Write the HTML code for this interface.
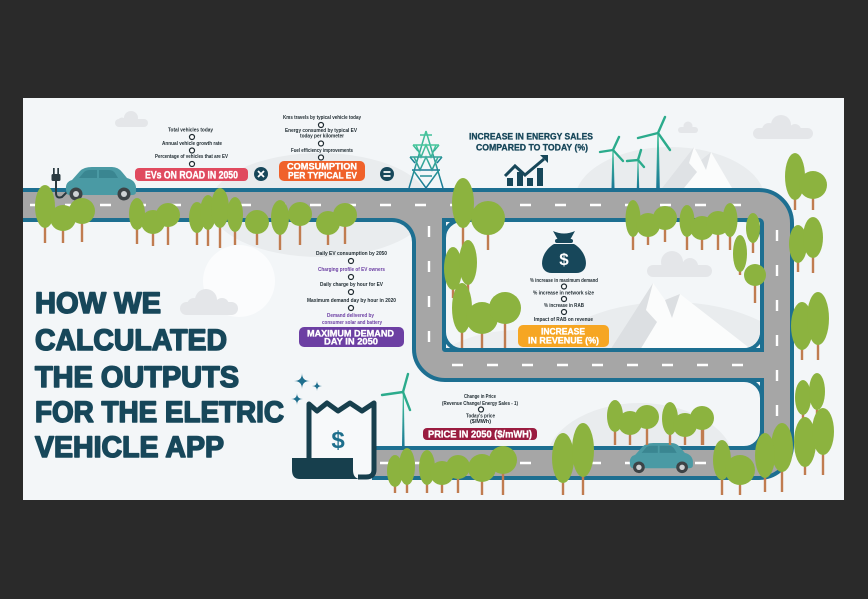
<!DOCTYPE html>
<html><head><meta charset="utf-8"><style>
html,body{margin:0;padding:0;background:#2a2a2a;}
svg{display:block;}
text{font-family:"Liberation Sans",sans-serif;font-weight:bold;}
</style></head><body>
<svg width="868" height="599" viewBox="0 0 868 599" xmlns="http://www.w3.org/2000/svg">
<defs>
<linearGradient id="tg" x1="0" y1="0" x2="0" y2="1"><stop offset="0" stop-color="#45c69a"/><stop offset="1" stop-color="#1a7896"/></linearGradient>
<clipPath id="c1"><rect x="446" y="222" width="314" height="126" rx="16"/></clipPath>
<clipPath id="c2"><rect x="446" y="382" width="314" height="64"/></clipPath>
</defs>
<rect width="868" height="599" fill="#2a2a2a"/>
<rect x="23" y="98" width="821" height="402" fill="#f3f6f8"/>

<!-- sun & clouds -->
<circle cx="239" cy="281" r="36" fill="#fbfcfd"/>
<g fill="#e4e6e9">
<rect x="115" y="119" width="33" height="8" rx="4"/><circle cx="131" cy="118" r="7"/><circle cx="122" cy="122" r="4.5"/>
<rect x="678" y="127" width="20" height="6" rx="3"/><circle cx="688" cy="126" r="4.5"/>
<rect x="753" y="128" width="60" height="11" rx="5.5"/><circle cx="781" cy="125" r="10"/><circle cx="769" cy="130" r="7"/><circle cx="795" cy="130" r="6"/>
<rect x="180" y="302" width="58" height="13" rx="6.5"/><circle cx="206" cy="300" r="11"/><circle cx="194" cy="305" r="7"/><circle cx="222" cy="305" r="7"/>
</g>
<!-- hills -->
<ellipse cx="320" cy="205" rx="110" ry="52" fill="#e9ecee"/>
<ellipse cx="670" cy="200" rx="95" ry="53" fill="#e9ecee"/>
<!-- top mountains -->
<polygon points="662,188 694,147 701,160 711,152 732,188" fill="#fbfcfc"/>
<polygon points="662,188 694,147 689,163 697,172 684,188" fill="#dfe2e5"/>
<polygon points="701,160 711,152 706,170" fill="#dfe2e5"/>

<!-- turbines -->
<g fill="url(#tg)">
<polygon points="611.5,188 614.5,188 613.6,150 612.4,150"/>
<polygon points="636.8,188 639.2,188 638.5,160 637.5,160"/>
<polygon points="656.2,188 659.8,188 658.7,133 657.3,133"/>
<polygon points="402,447 404.6,447 403.8,392 402.8,392"/>
</g>
<g stroke="#2bab8c" stroke-width="2.4" stroke-linecap="round">
<line x1="613" y1="150" x2="619" y2="137"/><line x1="613" y1="150" x2="600" y2="152"/><line x1="613" y1="150" x2="623" y2="161"/>
<line x1="638" y1="160" x2="641" y2="150"/><line x1="638" y1="160" x2="627" y2="161"/><line x1="638" y1="160" x2="644" y2="167"/>
<line x1="658" y1="133" x2="665" y2="117"/><line x1="658" y1="133" x2="638" y2="138"/><line x1="658" y1="133" x2="670" y2="150"/>
<line x1="403" y1="392" x2="408" y2="374"/><line x1="403" y1="392" x2="382" y2="395"/><line x1="403" y1="392" x2="410" y2="410"/>
</g>

<!-- transmission tower -->
<g stroke="url(#tg)" stroke-width="1.5" fill="none">
<path d="M426 131 L409 188 M426 131 L443 188 M420 135 L432 135"/>
<path d="M413 145 H439 M410 157 H442 M412 170 H440"/>
<path d="M416 145 L421 157 L426 145 L431 157 L436 145 M414 157 L420 170 L426 157 L432 170 L438 157 M413 170 L426 188 L439 170 M420 176 L432 176"/>
<path d="M413 145 L418 151 M439 145 L434 151 M410 157 L415 163 M442 157 L437 163"/>
</g>

<!-- roads -->
<g fill="none">
<path d="M23 205 H759 A18 18 0 0 1 777 223 V445 A18 18 0 0 1 759 463 H372" stroke="#1d6f91" stroke-width="34"/>
<path d="M429 205 V349 A16 16 0 0 0 445 365 H777" stroke="#1d6f91" stroke-width="34"/>
<path d="M23 205 H759 A18 18 0 0 1 777 223 V445 A18 18 0 0 1 759 463 H372" stroke="#a6a6a6" stroke-width="26"/>
<path d="M429 205 V349 A16 16 0 0 0 445 365 H777" stroke="#a6a6a6" stroke-width="26"/>
</g>
<path d="M392 222 L412 222 L412 242 A20 20 0 0 0 392 222 Z" fill="#1d6f91"/>
<path d="M392 218 L416 218 L416 242 A24 24 0 0 0 392 218 Z" fill="#a6a6a6"/>
<rect x="444" y="220" width="318" height="130" rx="18" fill="#f3f6f8" stroke="#1d6f91" stroke-width="4"/>
<path d="M446 380 H744 A18 18 0 0 1 762 398 V430 A18 18 0 0 1 744 448 H446" fill="#f3f6f8" stroke="#1d6f91" stroke-width="4"/>

<!-- inner loop scenery -->
<g clip-path="url(#c1)">
<ellipse cx="670" cy="370" rx="130" ry="68" fill="#e9ecee"/>
<ellipse cx="520" cy="375" rx="90" ry="45" fill="#eceef0"/>
<g fill="#e4e6e9"><rect x="647" y="265" width="65" height="12" rx="6"/><circle cx="672" cy="262" r="11"/><circle cx="690" cy="266" r="8"/></g>
<polygon points="610,350 653,283 665,300 680,294 752,350" fill="#fbfcfc"/>
<polygon points="610,350 653,283 646,310 657,322 640,350" fill="#dcdfe2"/>
<polygon points="665,300 680,294 672,318" fill="#dcdfe2"/>
</g>
<g clip-path="url(#c2)">
<ellipse cx="640" cy="465" rx="95" ry="62" fill="#e9ecee"/>
</g>

<!-- dashes -->
<g stroke="#ffffff" stroke-width="2.4" fill="none" stroke-dasharray="11 24">
<path d="M30 205 H752"/>
<path d="M777 230 V448"/>
<path d="M429 226 V350"/>
<path d="M452 365 H762"/>
<path d="M380 463 H768"/>
</g>

<!-- plug -->
<g fill="#2a3a40">
<rect x="53" y="168" width="1.7" height="7"/><rect x="57.3" y="168" width="1.7" height="7"/>
<rect x="51.5" y="174" width="9" height="7" rx="1.5"/>
</g>
<path d="M56 180 V193 Q56 199 62 197 L68 191" stroke="#2a3a40" stroke-width="2" fill="none"/>

<!-- cars -->
<g>
<path d="M66 190 Q65 182 72 180 L80 171 Q84 167 92 167 L112 167 Q118 167 122 172 L127 178 Q135 180 136 187 L136 192 Q136 195 132 195 L70 195 Q66 195 66 190 Z" fill="#4a9aa4"/>
<path d="M79 178 L84 172 Q86 170 90 170 L97 170 L97 178 Z M99 170 L109 170 Q113 170 115 173 L118 178 L99 178 Z" fill="#3a8691"/>
<circle cx="76" cy="194" r="6.5" fill="#3d4346"/><circle cx="76" cy="194" r="3" fill="#cfd2d4"/>
<circle cx="124" cy="194" r="6.5" fill="#3d4346"/><circle cx="124" cy="194" r="3" fill="#cfd2d4"/>
</g>
<g transform="translate(629 443) scale(0.9) translate(-65 -167)">
<path d="M66 190 Q65 182 72 180 L80 171 Q84 167 92 167 L112 167 Q118 167 122 172 L127 178 Q135 180 136 187 L136 192 Q136 195 132 195 L70 195 Q66 195 66 190 Z" fill="#4a9aa4"/>
<path d="M79 178 L84 172 Q86 170 90 170 L97 170 L97 178 Z M99 170 L109 170 Q113 170 115 173 L118 178 L99 178 Z" fill="#3a8691"/>
<circle cx="76" cy="194" r="6.5" fill="#3d4346"/><circle cx="76" cy="194" r="3" fill="#cfd2d4"/>
<circle cx="124" cy="194" r="6.5" fill="#3d4346"/><circle cx="124" cy="194" r="3" fill="#cfd2d4"/>
</g>

<!-- trees: trunks -->
<g fill="#c07c50">
<rect x="43.8" y="206" width="2.4" height="37"/><rect x="135.8" y="214" width="2.4" height="30"/><rect x="195.8" y="217" width="2.4" height="28"/><rect x="206.8" y="212" width="2.4" height="34"/><rect x="218.8" y="208" width="2.4" height="40"/><rect x="233.8" y="214" width="2.4" height="31"/><rect x="278.8" y="217" width="2.4" height="33"/>
<rect x="461.8" y="203" width="2.4" height="47"/><rect x="451.8" y="268" width="2.4" height="30"/><rect x="466.8" y="262" width="2.4" height="30"/><rect x="460.8" y="308" width="2.4" height="40"/>
<rect x="631.8" y="218" width="2.4" height="32"/><rect x="685.8" y="221" width="2.4" height="29"/><rect x="728.8" y="220" width="2.4" height="30"/><rect x="751.8" y="228" width="2.4" height="25"/><rect x="738.8" y="253" width="2.4" height="22"/>
<rect x="793.8" y="176" width="2.4" height="34"/><rect x="796.8" y="244" width="2.4" height="28"/><rect x="811.8" y="237" width="2.4" height="36"/><rect x="800.8" y="326" width="2.4" height="34"/><rect x="816.8" y="318" width="2.4" height="42"/><rect x="801.8" y="397" width="2.4" height="25"/><rect x="815.8" y="391" width="2.4" height="29"/><rect x="803.8" y="442" width="2.4" height="33"/><rect x="821.8" y="431" width="2.4" height="44"/><rect x="780.8" y="447" width="2.4" height="45"/><rect x="763.8" y="455" width="2.4" height="37"/><rect x="720.8" y="460" width="2.4" height="35"/>
<rect x="613.8" y="416" width="2.4" height="29"/><rect x="668.8" y="418" width="2.4" height="27"/><rect x="393.8" y="471" width="2.4" height="22"/><rect x="405.8" y="466" width="2.4" height="27"/><rect x="425.8" y="467" width="2.4" height="26"/><rect x="561.8" y="458" width="2.4" height="37"/><rect x="581.8" y="450" width="2.4" height="45"/>
<rect x="61.8" y="218" width="2.4" height="25"/><rect x="80.8" y="211" width="2.4" height="31"/><rect x="151.8" y="222" width="2.4" height="24"/><rect x="166.8" y="215" width="2.4" height="30"/><rect x="255.8" y="222" width="2.4" height="23"/><rect x="298.8" y="214" width="2.4" height="31"/><rect x="326.8" y="223" width="2.4" height="22"/><rect x="343.8" y="215" width="2.4" height="29"/><rect x="486.8" y="218" width="2.4" height="32"/><rect x="480.8" y="318" width="2.4" height="30"/><rect x="503.8" y="308" width="2.4" height="40"/><rect x="646.8" y="225" width="2.4" height="20"/><rect x="663.8" y="218" width="2.4" height="24"/><rect x="700.8" y="228" width="2.4" height="22"/><rect x="716.8" y="223" width="2.4" height="27"/><rect x="753.8" y="275" width="2.4" height="28"/><rect x="811.8" y="185" width="2.4" height="25"/><rect x="738.8" y="470" width="2.4" height="25"/><rect x="701.8" y="418" width="2.4" height="27"/><rect x="628.8" y="423" width="2.4" height="22"/><rect x="645.8" y="417" width="2.4" height="28"/><rect x="683.8" y="425" width="2.4" height="20"/><rect x="700.8" y="418" width="2.4" height="27"/><rect x="440.8" y="473" width="2.4" height="20"/><rect x="456.8" y="467" width="2.4" height="26"/><rect x="480.8" y="468" width="2.4" height="27"/><rect x="501.8" y="460" width="2.4" height="35"/>
</g>
<!-- trees: crowns -->
<g fill="#8cb33f">
<ellipse cx="45" cy="206.5" rx="10" ry="21.5"/><ellipse cx="137" cy="214" rx="8" ry="16"/><ellipse cx="197" cy="217.5" rx="8" ry="15.5"/><ellipse cx="208" cy="212.5" rx="8" ry="17.5"/><ellipse cx="220" cy="208" rx="9" ry="20"/><ellipse cx="235" cy="214.5" rx="8" ry="17.5"/><ellipse cx="280" cy="217.5" rx="9" ry="17.5"/>
<ellipse cx="463" cy="203" rx="11" ry="25"/><ellipse cx="453" cy="268.5" rx="9" ry="21.5"/><ellipse cx="468" cy="262.5" rx="9" ry="22.5"/><ellipse cx="462" cy="308" rx="10" ry="25"/>
<ellipse cx="633" cy="218.5" rx="7.5" ry="18.5"/><ellipse cx="687" cy="221" rx="7.5" ry="16"/><ellipse cx="730" cy="220" rx="7.5" ry="17"/><ellipse cx="753" cy="228" rx="7" ry="15"/><ellipse cx="740" cy="253.5" rx="7" ry="18.5"/>
<ellipse cx="795" cy="176.5" rx="10" ry="23.5"/><ellipse cx="798" cy="244" rx="9" ry="19"/><ellipse cx="813" cy="237.5" rx="10" ry="20.5"/><ellipse cx="802" cy="326" rx="11" ry="24"/><ellipse cx="818" cy="318.5" rx="11" ry="26.5"/><ellipse cx="803" cy="397.5" rx="8" ry="17.5"/><ellipse cx="817" cy="391.5" rx="8" ry="18.5"/><ellipse cx="805" cy="442" rx="11" ry="25"/><ellipse cx="823" cy="431.5" rx="11" ry="23.5"/><ellipse cx="782" cy="447.5" rx="11" ry="24.5"/><ellipse cx="765" cy="455.5" rx="10" ry="22.5"/><ellipse cx="722" cy="460" rx="9" ry="20"/>
<ellipse cx="615" cy="416" rx="8" ry="16"/><ellipse cx="670" cy="418.5" rx="8" ry="16.5"/><ellipse cx="395" cy="471" rx="8" ry="16"/><ellipse cx="407" cy="466.5" rx="8" ry="18.5"/><ellipse cx="427" cy="467.5" rx="8" ry="17.5"/><ellipse cx="563" cy="458" rx="11" ry="25"/><ellipse cx="583" cy="450" rx="11" ry="27"/>
<circle cx="63" cy="218" r="13"/><circle cx="82" cy="211" r="13"/><circle cx="153" cy="222" r="12"/><circle cx="168" cy="215" r="12"/><circle cx="257" cy="222" r="12"/><circle cx="300" cy="214" r="12"/><circle cx="328" cy="223" r="12"/><circle cx="345" cy="215" r="12"/><circle cx="488" cy="218" r="17"/><circle cx="482" cy="318" r="16"/><circle cx="505" cy="308" r="16"/><circle cx="648" cy="225" r="12"/><circle cx="665" cy="218" r="12"/><circle cx="702" cy="228" r="12"/><circle cx="718" cy="223" r="12"/><circle cx="755" cy="275" r="11"/><circle cx="813" cy="185" r="14"/><circle cx="740" cy="470" r="15"/><circle cx="703" cy="418" r="10"/><circle cx="630" cy="423" r="12"/><circle cx="647" cy="417" r="12"/><circle cx="685" cy="425" r="12"/><circle cx="702" cy="418" r="12"/><circle cx="442" cy="473" r="12"/><circle cx="458" cy="467" r="12"/><circle cx="482" cy="468" r="14"/><circle cx="503" cy="460" r="14"/>
</g>

<!-- receipt -->
<path d="M309 462 V404 L317 411 L327 403 L338 411 L350 403 L362 411 L374 403 V470 Q374 477 366 477 H358" fill="#f7f9fa" stroke="#173f4d" stroke-width="5" stroke-linejoin="round"/>
<path d="M292 458 H353 V470 Q353 479 361 479 H300 Q292 479 292 470 Z" fill="#173f4d"/>
<text x="338" y="448" font-size="24" fill="#1e6f8c" text-anchor="middle">$</text>
<g fill="#1f6f8e">
<path d="M302 373 Q302 381 310 381 Q302 381 302 389 Q302 381 294 381 Q302 381 302 373 Z"/>
<path d="M317 381 Q317 386 322 386 Q317 386 317 391 Q317 386 312 386 Q317 386 317 381 Z"/>
<path d="M297 393 Q297 399 303 399 Q297 399 297 405 Q297 399 291 399 Q297 399 297 393 Z"/>
</g>

<!-- money bag -->
<g fill="#17475a">
<path d="M553 231 Q564 236 575 231 L570 240 H558 Z"/>
<rect x="555" y="239" width="18" height="4" rx="2"/>
<path d="M554 244 C540 252 537 273 552 273 H576 C591 273 588 252 574 244 Z"/>
</g>
<text x="564" y="265" font-size="17" fill="#ffffff" text-anchor="middle">$</text>

<!-- chart icon -->
<g fill="#17475a">
<rect x="507" y="178" width="6" height="8"/><rect x="517" y="172" width="6" height="14"/><rect x="527" y="178" width="6" height="8"/><rect x="537" y="168" width="6" height="18"/>
<polygon points="540,155 548,155 548,163"/>
</g>
<polyline points="505,176 515,166 525,175 544,159" fill="none" stroke="#17475a" stroke-width="3"/>

<!-- operator circles -->
<circle cx="261" cy="174" r="7" fill="#17475a"/>
<path d="M258 171 L264 177 M264 171 L258 177" stroke="#fff" stroke-width="1.8"/>
<circle cx="387" cy="174" r="7" fill="#17475a"/>
<path d="M383.5 172 H390.5 M383.5 176 H390.5" stroke="#fff" stroke-width="1.8"/>

<!-- pills -->
<g stroke="#ffffff" stroke-width="0.35">
<rect x="135" y="168" width="113" height="13" rx="4" fill="#e04a5f" stroke="none"/>
<text x="145" y="178.5" font-size="11" fill="#fff" textLength="93" lengthAdjust="spacingAndGlyphs">EVs ON ROAD IN 2050</text>
<rect x="279" y="161" width="86" height="20" rx="5" fill="#f0612a" stroke="none"/>
<text x="287" y="169.5" font-size="9.5" fill="#fff" textLength="70" lengthAdjust="spacingAndGlyphs">COMSUMPTION</text>
<text x="288" y="178.5" font-size="9.5" fill="#fff" textLength="69" lengthAdjust="spacingAndGlyphs">PER TYPICAL EV</text>
<rect x="299" y="327" width="105" height="20" rx="5" fill="#6c3fa3" stroke="none"/>
<text x="307" y="336.5" font-size="9" fill="#fff" textLength="87" lengthAdjust="spacingAndGlyphs">MAXIMUM DEMAND</text>
<text x="324" y="344.5" font-size="9" fill="#fff" textLength="54" lengthAdjust="spacingAndGlyphs">DAY IN 2050</text>
<rect x="518" y="325" width="91" height="22" rx="5" fill="#f6a623" stroke="none"/>
<text x="541" y="334.5" font-size="9" fill="#fff" textLength="44" lengthAdjust="spacingAndGlyphs">INCREASE</text>
<text x="528" y="343.5" font-size="9" fill="#fff" textLength="71" lengthAdjust="spacingAndGlyphs">IN REVENUE (%)</text>
<rect x="423" y="428" width="114" height="12" rx="4" fill="#9a1c40" stroke="none"/>
<text x="428" y="437.5" font-size="10" fill="#fff" textLength="104" lengthAdjust="spacingAndGlyphs">PRICE IN 2050 ($/mWH)</text>
</g>

<!-- energy sales heading -->
<g stroke="#17475a" stroke-width="0.3">
<text x="469" y="139.5" font-size="9.5" fill="#17475a" textLength="124" lengthAdjust="spacingAndGlyphs">INCREASE IN ENERGY SALES</text>
<text x="476" y="150.5" font-size="9.5" fill="#17475a" textLength="112" lengthAdjust="spacingAndGlyphs">COMPARED TO TODAY (%)</text>
</g>

<!-- tiny texts -->
<g font-size="5.5" fill="#1e2a30">
<text x="168" y="131.5" textLength="45" lengthAdjust="spacingAndGlyphs">Total vehicles today</text>
<text x="162" y="145" textLength="60" lengthAdjust="spacingAndGlyphs">Annual vehicle growth rate</text>
<text x="155" y="158" textLength="73" lengthAdjust="spacingAndGlyphs">Percentage of vehicles that are EV</text>
<text x="283" y="119" textLength="78" lengthAdjust="spacingAndGlyphs">Kms travels by typical vehicle today</text>
<text x="285" y="132" textLength="72" lengthAdjust="spacingAndGlyphs">Energy consumed by typical EV</text>
<text x="300" y="137.5" textLength="44" lengthAdjust="spacingAndGlyphs">today per kilometer</text>
<text x="291" y="152" textLength="62" lengthAdjust="spacingAndGlyphs">Fuel efficiency improvements</text>
<text x="316" y="255" textLength="71" lengthAdjust="spacingAndGlyphs">Daily EV consumption by 2050</text>
<text x="318" y="271" textLength="67" lengthAdjust="spacingAndGlyphs" fill="#6c3fa3">Charging profile of EV owners</text>
<text x="320" y="286" textLength="63" lengthAdjust="spacingAndGlyphs">Daily charge by hour for EV</text>
<text x="307" y="302" textLength="89" lengthAdjust="spacingAndGlyphs">Maximum demand day by hour in 2020</text>
<text x="327" y="317" textLength="47" lengthAdjust="spacingAndGlyphs" fill="#6c3fa3">Demand delivered by</text>
<text x="322" y="324" textLength="60" lengthAdjust="spacingAndGlyphs" fill="#6c3fa3">consumer solar and battery</text>
<text x="530" y="282" textLength="68" lengthAdjust="spacingAndGlyphs">% increase in maximum demand</text>
<text x="533" y="294.5" textLength="61" lengthAdjust="spacingAndGlyphs">% increase in network size</text>
<text x="544" y="307" textLength="40" lengthAdjust="spacingAndGlyphs">% increase in RAB</text>
<text x="534" y="321" textLength="59" lengthAdjust="spacingAndGlyphs">Impact of RAB on revenue</text>
<text x="464" y="398" textLength="32" lengthAdjust="spacingAndGlyphs">Change in Price</text>
<text x="442" y="405" textLength="76" lengthAdjust="spacingAndGlyphs">(Revenue Change/ Energy Sales - 1)</text>
<text x="466" y="417.5" textLength="29" lengthAdjust="spacingAndGlyphs">Today's price</text>
<text x="470" y="423" textLength="21" lengthAdjust="spacingAndGlyphs">($/MWh)</text>
</g>
<g fill="#ffffff" stroke="#1e2a30" stroke-width="1.2">
<circle cx="192" cy="137" r="2.5"/><circle cx="192" cy="150.5" r="2.5"/><circle cx="192" cy="164" r="2.5"/>
<circle cx="321" cy="125" r="2.5"/><circle cx="321" cy="143.5" r="2.5"/><circle cx="321" cy="157.5" r="2.5"/>
<circle cx="351" cy="261" r="2.5"/><circle cx="351" cy="277" r="2.5"/><circle cx="351" cy="292" r="2.5"/><circle cx="351" cy="308" r="2.5"/>
<circle cx="564" cy="286.5" r="2.5"/><circle cx="564" cy="299" r="2.5"/><circle cx="564" cy="312" r="2.5"/>
<circle cx="481" cy="409.5" r="2.5"/>
</g>

<!-- title -->
<g font-size="30" fill="#17475a" stroke="#17475a" stroke-width="1.6" stroke-linejoin="round">
<text x="35" y="313" style="font-weight:bold" textLength="126" lengthAdjust="spacingAndGlyphs">HOW WE</text>
<text x="35" y="350" style="font-weight:bold" textLength="192" lengthAdjust="spacingAndGlyphs">CALCULATED</text>
<text x="35" y="387" style="font-weight:bold" textLength="204" lengthAdjust="spacingAndGlyphs">THE OUTPUTS</text>
<text x="35" y="422" style="font-weight:bold" textLength="249" lengthAdjust="spacingAndGlyphs">FOR THE ELETRIC</text>
<text x="35" y="457" style="font-weight:bold" textLength="189" lengthAdjust="spacingAndGlyphs">VEHICLE APP</text>
</g>
</svg>
</body></html>
